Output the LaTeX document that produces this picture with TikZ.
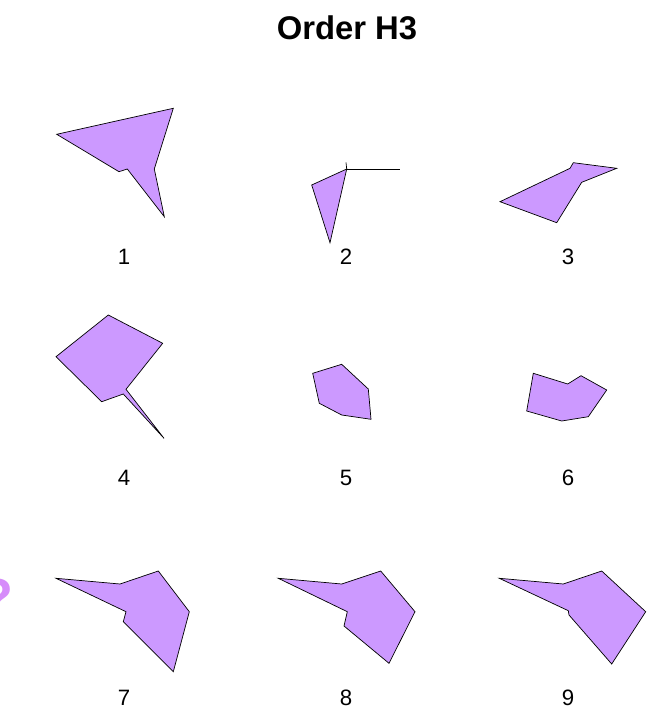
\documentclass[tikz,border=0pt]{standalone}
\usepackage{fontspec}
\setmainfont{Liberation Sans}
\usetikzlibrary{positioning}
\definecolor{shapefill}{RGB}{204,153,255}
\definecolor{askpurple}{RGB}{214,140,250}

\begin{document}
\begin{tikzpicture}[x=0.03cm, y=-0.03cm,
  piece/.style={draw=black, line width=0.6pt, fill=shapefill, line join=miter},
  numlabel/.style={font=\fontsize{19}{21}\selectfont, inner sep=0pt}]
\useasboundingbox (0,0) rectangle (653,710);

% title
\node[font=\fontsize{28}{32}\selectfont\bfseries] (title) at (347,28) {Order H3};

% shape 1
\draw[piece] (56.7,134.3) -- (173.3,108.3) -- (154.3,169) -- (164.3,216.7)
  -- (127.3,169) -- (119,171.7) -- cycle;
\node[numlabel] (lab1) at (124,257) {1};

% shape 2
\draw[piece] (346.7,169) -- (311.7,185) -- (330,242.7) -- cycle;
\draw[line width=0.6pt] (346.7,169) -- (400,169);
\draw[line width=0.6pt] (346,162.5) -- (346.7,169);
\node[numlabel] (lab2) at (346,257) {2};

% shape 3
\draw[piece] (500,201.7) -- (570,168.3) -- (573.3,162.7) -- (616.7,168.3)
  -- (581.7,182.3) -- (556.7,222.7) -- cycle;
\node[numlabel] (lab3) at (568,257) {3};

% shape 4
\draw[piece] (56,356.7) -- (108.3,315) -- (162.7,343.3) -- (126,389.3)
  -- (164,438.3) -- (123.3,394) -- (101.7,401.7) -- cycle;
\node[numlabel] (lab4) at (124,478) {4};

% shape 5
\draw[piece] (312.7,373.3) -- (341.7,364.3) -- (368.3,389) -- (371,419.3)
  -- (341.7,415) -- (319.3,403.3) -- cycle;
\node[numlabel] (lab5) at (346,478) {5};

% shape 6
\draw[piece] (533.3,373.3) -- (567.7,384) -- (581,375.7) -- (606.7,390)
  -- (588.3,416.7) -- (561.7,421) -- (526.7,411) -- cycle;
\node[numlabel] (lab6) at (568,478) {6};

% shape 7
\draw[piece] (56,578.3) -- (120,584) -- (158.3,571) -- (189.3,611.7)
  -- (173.3,671.7) -- (123.3,621.7) -- (126,611.7) -- cycle;
\node[numlabel] (lab7) at (124,698) {7};

% shape 8
\draw[piece] (278.3,578.3) -- (341.7,584) -- (380.7,571) -- (415,611.7)
  -- (389,663.3) -- (344,626) -- (347.3,611.7) -- cycle;
\node[numlabel] (lab8) at (346,698) {8};

% shape 9
\draw[piece] (499.3,578.3) -- (563.3,584) -- (601.7,571) -- (645.7,611.7)
  -- (611.7,664) -- (569,615) -- (568.3,610.7) -- cycle;
\node[numlabel] (lab9) at (568,698) {9};

% question mark, cut by the left edge as in the original
\begin{scope}
\clip (0,0) rectangle (653,710);
\node[font=\fontsize{46}{50}\selectfont\bfseries, text=askpurple] (ask) at (-3,598) {?};
\end{scope}
\end{tikzpicture}
\end{document}
